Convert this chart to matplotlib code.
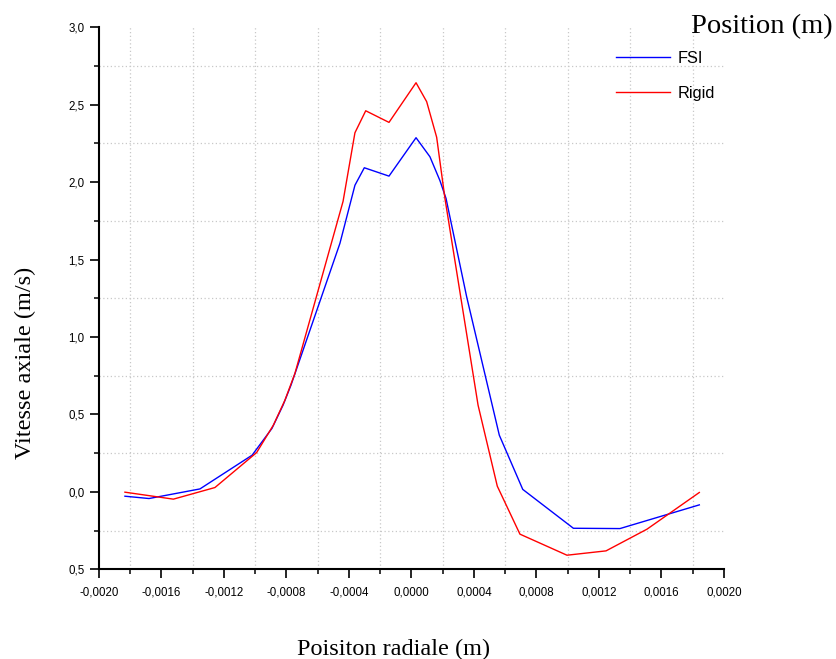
import matplotlib
matplotlib.use("Agg")
import matplotlib.pyplot as plt
from matplotlib.ticker import FixedLocator, FixedFormatter, MultipleLocator

# Radial position (m) and axial velocity (m/s) for each model
fsi_x = [-0.001834, -0.00168, -0.001354, -0.00102, -0.000893, -0.000822, -0.000771,
         -0.000458, -0.000362, -0.000302, -0.000144, 0.000029, 0.000118, 0.000182,
         0.000221, 0.000353, 0.000562, 0.000712, 0.001036, 0.001334, 0.001842]
fsi_v = [-0.028, -0.043, 0.019, 0.237, 0.41, 0.56, 0.69,
         1.605, 1.98, 2.093, 2.039, 2.287, 2.164, 2.01,
         1.895, 1.26, 0.366, 0.016, -0.235, -0.237, -0.084]

rigid_x = [-0.001834, -0.001524, -0.001258, -0.000991, -0.000884, -0.00081, -0.000746,
           -0.000438, -0.000362, -0.000293, -0.000144, 0.000029, 0.000097, 0.000161,
           0.000214, 0.000426, 0.000549, 0.000694, 0.000995, 0.001245, 0.001507, 0.001842]
rigid_v = [-0.002, -0.047, 0.028, 0.254, 0.431, 0.592, 0.765,
           1.876, 2.319, 2.461, 2.386, 2.642, 2.52, 2.29,
           1.895, 0.56, 0.037, -0.273, -0.409, -0.381, -0.241, -0.004]

x_ticks = [-0.0020, -0.0016, -0.0012, -0.0008, -0.0004, 0.0, 0.0004, 0.0008, 0.0012, 0.0016, 0.0020]
x_labels = ["-0,0020", "-0,0016", "-0,0012", "-0,0008", "-0,0004", "0,0000",
            "0,0004", "0,0008", "0,0012", "0,0016", "0,0020"]
y_ticks = [-0.5, 0.0, 0.5, 1.0, 1.5, 2.0, 2.5, 3.0]
y_labels = ["0,5", "0,0", "0,5", "1,0", "1,5", "2,0", "2,5", "3,0"]

W, H = 837, 659
fig = plt.figure(figsize=(W / 100, H / 100), dpi=100)
ax = fig.add_axes([99 / W, 1 - 569.3 / H, (724 - 99) / W, (569.3 - 27.3) / H])

ax.plot(fsi_x, fsi_v, color="#0000ff", lw=1.0, label="FSI", zorder=3)
ax.plot(rigid_x, rigid_v, color="#ff0000", lw=1.0, label="Rigid", zorder=3)

ax.set_xlim(-0.0020, 0.0020)
ax.set_ylim(-0.5, 3.0)

ax.xaxis.set_major_locator(FixedLocator(x_ticks))
ax.xaxis.set_major_formatter(FixedFormatter(x_labels))
ax.xaxis.set_minor_locator(MultipleLocator(0.0002))
ax.yaxis.set_major_locator(FixedLocator(y_ticks))
ax.yaxis.set_major_formatter(FixedFormatter(y_labels))
ax.yaxis.set_minor_locator(MultipleLocator(0.25))

# dotted grid on the minor ticks only
ax.grid(False, which="major")
ax.grid(True, which="minor", color="#c8c8c8", linestyle=(0, (1, 2)), linewidth=0.9)
ax.set_axisbelow(True)

for side in ("top", "right"):
    ax.spines[side].set_visible(False)
for side in ("left", "bottom"):
    ax.spines[side].set_linewidth(1.5)

tick_font = "Liberation Sans"
ax.tick_params(which="major", direction="out", length=6.5, width=1.2, pad=4,
               labelsize=8.3, colors="black")
ax.tick_params(axis="x", which="major", pad=6)
ax.tick_params(which="minor", direction="out", length=3.8, width=1.1)
for lab in ax.get_xticklabels() + ax.get_yticklabels():
    lab.set_fontfamily(tick_font)

serif = "Liberation Serif"
fig.text(25 / W, 1 - 363 / H, "Vitesse axiale (m/s)", rotation=90,
         ha="center", va="center", fontsize=17.5, family=serif)
fig.text(394 / W, 1 - 649 / H, "Poisiton radiale (m)", ha="center", va="center",
         fontsize=17.5, family=serif)
fig.text(833 / W, 1 - 27 / H, "Position (m)", ha="right", va="center",
         fontsize=20.5, family=serif)

ax.legend(loc="upper left", bbox_to_anchor=(616 / W, 1 - 51 / H),
          bbox_transform=fig.transFigure, frameon=False,
          prop={"family": tick_font, "size": 11.8},
          handlelength=3.3, handletextpad=0.45, labelspacing=1.2,
          borderpad=0, borderaxespad=0)

fig.savefig("out.png", dpi=100, facecolor="white")
